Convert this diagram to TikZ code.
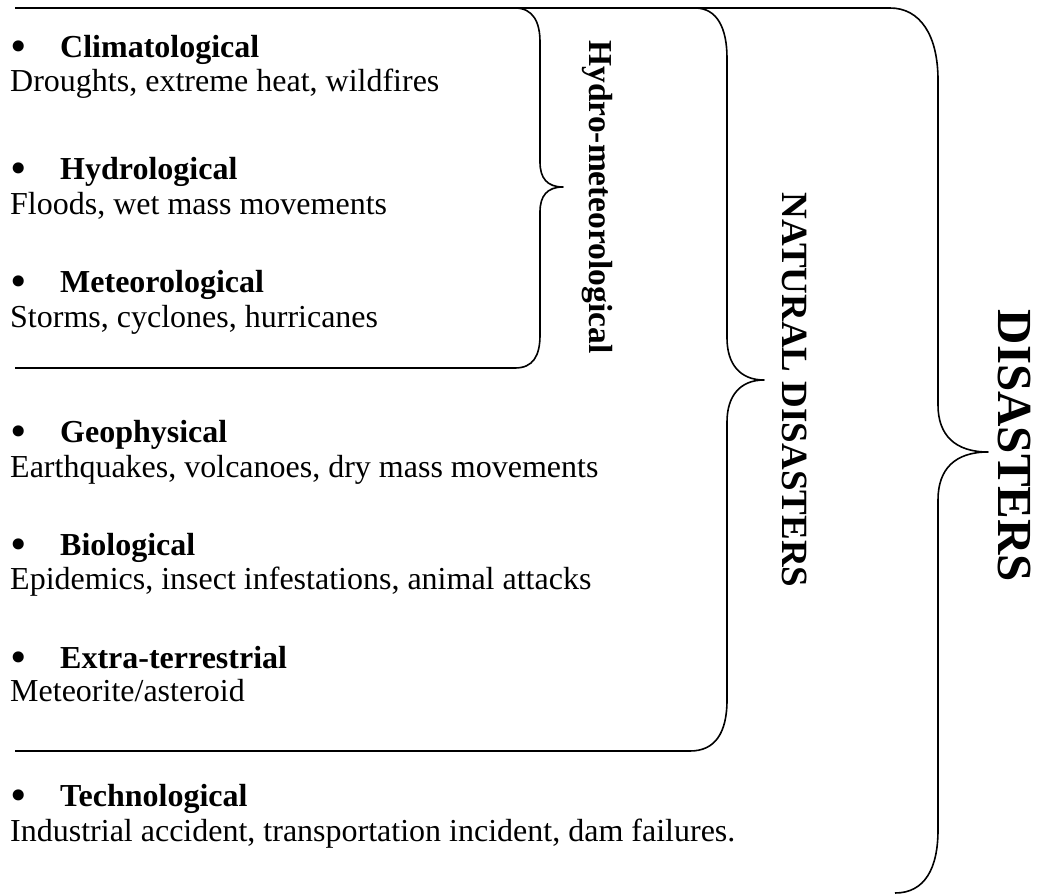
\documentclass[tikz,border=0pt]{standalone}
\usepackage{fontspec}
\setmainfont{Liberation Serif}
\newfontfamily\bulletfont{DejaVu Sans}
\begin{document}
\begin{tikzpicture}[x=1pt,y=-1pt,
  brace/.style={draw=black,line width=1.6pt,line join=round},
  head/.style={anchor=base west,inner sep=0pt,font=\fontsize{32}{38}\selectfont\bfseries},
  bodytext/.style={anchor=base west,inner sep=0pt,font=\fontsize{32}{38}\selectfont},
  dot/.style={anchor=base west,inner sep=0pt,font=\bulletfont\fontsize{38}{40}\selectfont,yshift=-3pt},
  vlabel/.style={rotate=-90,inner sep=0pt,font=\bfseries}]
\useasboundingbox (0,0) rectangle (1037,894);

% Hydro-meteorological brace
\draw[brace] (15,8) -- (515,8) .. controls (533,8) and (540,22) .. (540,42)
  -- (540,162) .. controls (540,178) and (547,187) .. (563,187)
  .. controls (547,187) and (540,196) .. (540,212)
  -- (540,335) .. controls (540,356) and (533,368) .. (515,368) -- (15,368);

% Natural disasters brace
\draw[brace] (15,8) -- (695,8) .. controls (717,8) and (727,28) .. (727,58)
  -- (727,338) .. controls (727,364) and (740,380) .. (764,380)
  .. controls (740,380) and (727,396) .. (727,422)
  -- (727,700) .. controls (727,733) and (715,751) .. (690,751) -- (15,751);

% Disasters brace
\draw[brace] (15,8) -- (890,8) .. controls (920,8) and (938,35) .. (938,80)
  -- (938,405) .. controls (938,435) and (955,452) .. (988,452)
  .. controls (955,452) and (938,469) .. (938,500)
  -- (938,830) .. controls (938,868) and (925,893) .. (895,893);

% Group labels
\node[vlabel,font=\fontsize{33.5}{40}\selectfont\bfseries] (hm) at (597,197) {Hydro-meteorological};
\node[vlabel,font=\fontsize{37}{44}\selectfont\bfseries] (nd) at (795,390) {NATURAL DISASTERS};
\node[vlabel,font=\fontsize{49}{58}\selectfont\bfseries] (dis) at (1014,446) {DISASTERS};

% Categories
\node[dot] (b1) at (7,57) {•};
\node[head] (h1) at (60,57) {Climatological};
\node[bodytext] (t1) at (10,91) {Droughts, extreme heat, wildfires};

\node[dot] (b2) at (7,179) {•};
\node[head] (h2) at (60,179) {Hydrological};
\node[bodytext] (t2) at (10,214) {Floods, wet mass movements};

\node[dot] (b3) at (7,292) {•};
\node[head] (h3) at (60,292) {Meteorological};
\node[bodytext] (t3) at (10,327) {Storms, cyclones, hurricanes};

\node[dot] (b4) at (7,442) {•};
\node[head] (h4) at (60,442) {Geophysical};
\node[bodytext] (t4) at (10,477) {Earthquakes, volcanoes, dry mass movements};

\node[dot] (b5) at (7,555) {•};
\node[head] (h5) at (60,555) {Biological};
\node[bodytext] (t5) at (10,589) {Epidemics, insect infestations, animal attacks};

\node[dot] (b6) at (7,668) {•};
\node[head] (h6) at (60,668) {Extra-terrestrial};
\node[bodytext] (t6) at (10,701) {Meteorite/asteroid};

\node[dot] (b7) at (7,806) {•};
\node[head] (h7) at (60,806) {Technological};
\node[bodytext] (t7) at (10,841) {Industrial accident, transportation incident, dam failures.};
\end{tikzpicture}
\end{document}
